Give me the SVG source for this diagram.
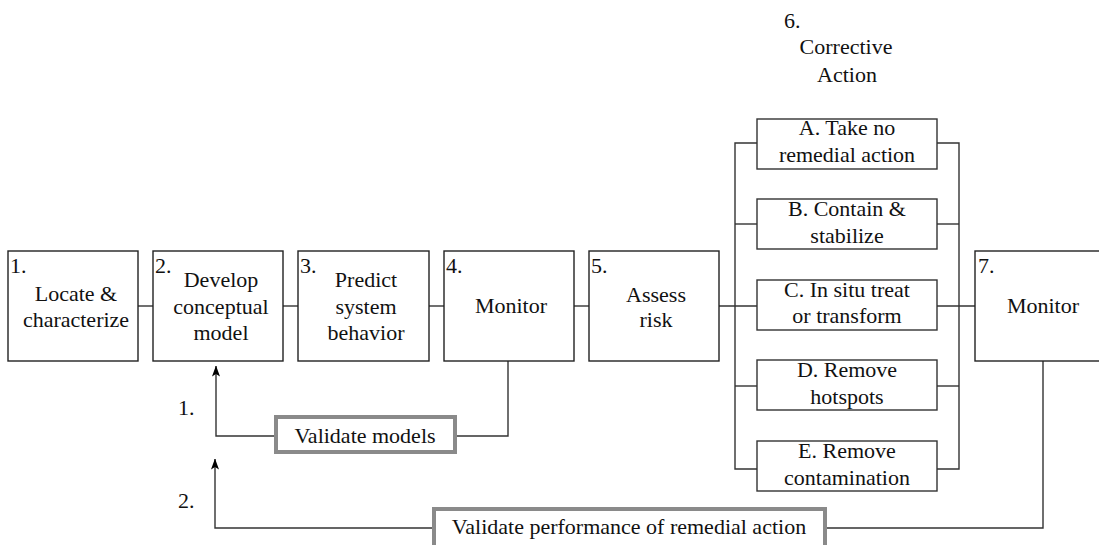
<svg xmlns="http://www.w3.org/2000/svg" width="1099" height="545" viewBox="0 0 1099 545">
<defs>
<style>
text{font-family:'Liberation Serif','Times New Roman',serif;font-size:22px;fill:#111}
.c{text-anchor:middle}
.box{fill:#fff;stroke:#222;stroke-width:1.4}
.sub{fill:#fff;stroke:#333;stroke-width:1.4}
.val{fill:#fff;stroke:#8a8a8a;stroke-width:4}
.ln{fill:none;stroke:#333;stroke-width:1.4}
</style>
<marker id="ah" viewBox="0 0 11 8" refX="10.5" refY="4" markerWidth="11" markerHeight="8" markerUnits="userSpaceOnUse" orient="auto">
<path d="M11 4 L0 0 L2.5 4 L0 8 Z" fill="#000"/>
</marker>
</defs>

<g id="connectors">
<line class="ln" x1="138" y1="306" x2="153" y2="306"/>
<line class="ln" x1="283" y1="306" x2="298" y2="306"/>
<line class="ln" x1="429" y1="306" x2="444" y2="306"/>
<line class="ln" x1="574" y1="306" x2="589" y2="306"/>
<line class="ln" x1="719" y1="306" x2="757" y2="306"/>
<line class="ln" x1="937" y1="306" x2="975" y2="306"/>
<polyline class="ln" points="757,143 735,143 735,469 757,469"/>
<line class="ln" x1="735" y1="224" x2="757" y2="224"/>
<line class="ln" x1="735" y1="386" x2="757" y2="386"/>
<polyline class="ln" points="937,143 959,143 959,469 937,469"/>
<line class="ln" x1="937" y1="224" x2="959" y2="224"/>
<line class="ln" x1="937" y1="386" x2="959" y2="386"/>
<polyline class="ln" points="508,361 508,436 455,436"/>
<polyline class="ln" points="276,436 216,436 216,366" marker-end="url(#ah)"/>
<polyline class="ln" points="1043,361 1043,528 825,528"/>
<polyline class="ln" points="434,528 215,528 215,459" marker-end="url(#ah)"/>
</g>

<g id="n1"><rect class="box" x="8" y="251" width="130" height="110"/><text x="10" y="273">1.</text><text class="c" x="76" y="301">Locate &amp;</text><text class="c" x="76" y="327">characterize</text></g>
<g id="n2"><rect class="box" x="153" y="251" width="130" height="110"/><text x="155" y="273">2.</text><text class="c" x="221" y="287">Develop</text><text class="c" x="221" y="314">conceptual</text><text class="c" x="221" y="340">model</text></g>
<g id="n3"><rect class="box" x="298" y="251" width="131" height="110"/><text x="300" y="273">3.</text><text class="c" x="366" y="287">Predict</text><text class="c" x="366" y="314">system</text><text class="c" x="366" y="340">behavior</text></g>
<g id="n4"><rect class="box" x="444" y="251" width="130" height="110"/><text x="446" y="273">4.</text><text class="c" x="511" y="313">Monitor</text></g>
<g id="n5"><rect class="box" x="589" y="251" width="130" height="110"/><text x="591" y="273">5.</text><text class="c" x="656" y="302">Assess</text><text class="c" x="656" y="327">risk</text></g>
<g id="n6"><text x="784" y="28">6.</text><text class="c" x="846" y="54">Corrective</text><text class="c" x="847" y="82">Action</text></g>
<g id="n6a"><rect class="sub" x="757" y="119" width="180" height="50"/><text class="c" x="847" y="135">A. Take no</text><text class="c" x="847" y="162">remedial action</text></g>
<g id="n6b"><rect class="sub" x="757" y="199" width="180" height="50"/><text class="c" x="847" y="216">B. Contain &amp;</text><text class="c" x="847" y="243">stabilize</text></g>
<g id="n6c"><rect class="sub" x="757" y="280" width="180" height="50"/><text class="c" x="847" y="297">C. In situ treat</text><text class="c" x="847" y="323">or transform</text></g>
<g id="n6d"><rect class="sub" x="757" y="360" width="180" height="50"/><text class="c" x="847" y="377">D. Remove</text><text class="c" x="847" y="404">hotspots</text></g>
<g id="n6e"><rect class="sub" x="757" y="441" width="180" height="50"/><text class="c" x="847" y="458">E. Remove</text><text class="c" x="847" y="485">contamination</text></g>
<g id="n7"><rect class="box" x="975" y="251" width="132" height="110"/><text x="978" y="273">7.</text><text class="c" x="1043" y="313">Monitor</text></g>
<g id="val1"><rect class="val" x="276" y="417" width="179" height="35"/><text class="c" x="365" y="443">Validate models</text></g>
<g id="val2"><rect class="val" x="434" y="509" width="391" height="44"/><text class="c" x="629" y="534">Validate performance of remedial action</text></g>
<g id="labels"><text x="178" y="415">1.</text><text x="178" y="508">2.</text></g>
</svg>
